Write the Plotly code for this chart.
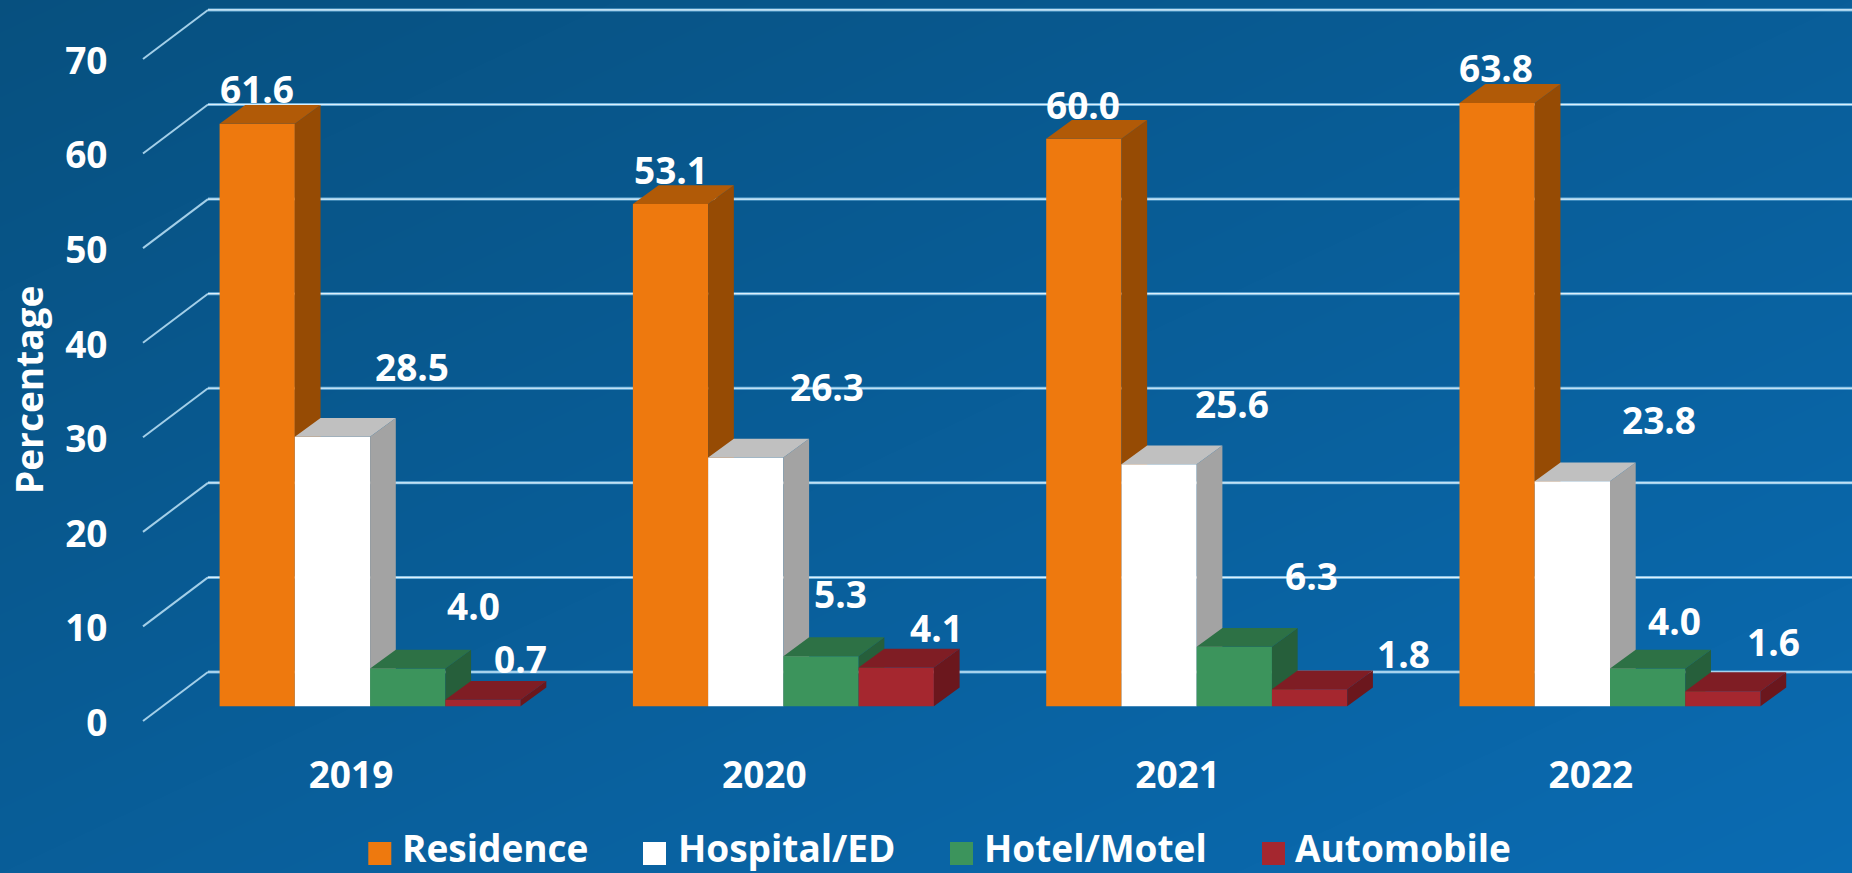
import plotly.graph_objects as go

# ---- data ----
years = ["2019", "2020", "2021", "2022"]
residence = [61.6, 53.1, 60.0, 63.8]
hospital = [28.5, 26.3, 25.6, 23.8]
hotel = [4.0, 5.3, 6.3, 4.0]
automobile = [0.7, 4.1, 1.8, 1.6]
series_names = ["Residence", "Hospital/ED", "Hotel/Motel", "Automobile"]
y_ticks = [0, 10, 20, 30, 40, 50, 60, 70]

# ---- styles ----
FRONT = ["#EE790E", "#FFFFFF", "#3C945C", "#A5272F"]
TOP = ["#B15A07", "#C0C0C0", "#2D7145", "#7F1D24"]
SIDE = ["#964B04", "#A3A3A3", "#265F3B", "#6B171D"]
GRID_OUTER = "rgba(130,195,235,0.85)"
GRID_CORE = "#DCEFFA"
STUB = "#A3CFE8"
FONT = "Open Sans"
FS = 37

# ---- geometry: page pixels <-> axis units ----
W, H = 1852, 873
Y0_PX, PX_PER_UNIT = 706.3, 9.458      # baseline and scale of the bars
X0_PX, PX_PER_GROUP = 219.6, 413.3     # left edge of the first group
BAR_W = 75.25 / PX_PER_GROUP
DX = 25.7 / PX_PER_GROUP               # depth of the 3D effect
DY = 18.8 / PX_PER_UNIT


def xd(px):
    return (px - X0_PX) / PX_PER_GROUP


def yd(px):
    return (Y0_PX - px) / PX_PER_UNIT


X_RANGE = [xd(0), xd(W)]
Y_RANGE = [yd(H), yd(0)]
GRID_BACK = yd(672.0)
GRID_FRONT = yd(721.0)
TICK_SHIFT = yd(723.0)   # where value 0 of the tick labels sits

# label centres in page pixels, one row per year
label_px = [
    [(257, 88), (412, 366), (474, 605), (521, 658)],
    [(671, 170), (827, 387), (841, 594), (937, 628)],
    [(1083, 104), (1232, 403), (1312, 576), (1404, 653)],
    [(1496, 67), (1659, 419), (1675, 620), (1774, 641)],
]

fig = go.Figure()

# background gradient
fig.add_trace(go.Heatmap(
    x=X_RANGE, y=Y_RANGE, z=[[0.5, 1.0], [0.0, 0.5]], zsmooth="best",
    colorscale=[[0, "#07507F"], [1, "#0A6BB2"]], showscale=False,
    hoverinfo="skip", xaxis="x", yaxis="y",
))

# floor stubs + back wall grid lines
for t in y_ticks:
    fig.add_trace(go.Scatter(
        x=[xd(143), xd(208)], y=[GRID_FRONT + t, GRID_BACK + t],
        mode="lines", line=dict(color=STUB, width=2),
        hoverinfo="skip", showlegend=False, xaxis="x", yaxis="y",
    ))
    for color, width in ((GRID_OUTER, 3), (GRID_CORE, 1.2)):
        fig.add_trace(go.Scatter(
            x=[xd(208), xd(W + 5)], y=[GRID_BACK + t, GRID_BACK + t],
            mode="lines", line=dict(color=color, width=width),
            hoverinfo="skip", showlegend=False, xaxis="x", yaxis="y",
        ))

values = [residence, hospital, hotel, automobile]
for s, (name, vals) in enumerate(zip(series_names, values)):
    ya = f"y{s + 2}"
    lefts = [g + s * BAR_W for g in range(len(years))]
    tx, ty, sx, sy = [], [], [], []
    for left, v in zip(lefts, vals):
        r = left + BAR_W
        tx += [left, left + DX, r + DX, r, left, None]
        ty += [v, v + DY, v + DY, v, v, None]
        sx += [r, r + DX, r + DX, r, r, None]
        sy += [0, DY, v + DY, v, 0, None]
    fig.add_trace(go.Scatter(x=sx, y=sy, fill="toself", fillcolor=SIDE[s], mode="lines",
                             line=dict(width=0, color=SIDE[s]), hoverinfo="skip",
                             showlegend=False, xaxis="x", yaxis=ya))
    fig.add_trace(go.Scatter(x=tx, y=ty, fill="toself", fillcolor=TOP[s], mode="lines",
                             line=dict(width=0, color=TOP[s]), hoverinfo="skip",
                             showlegend=False, xaxis="x", yaxis=ya))
    fig.add_trace(go.Bar(
        name=name, x=[l + BAR_W / 2 for l in lefts], y=vals, width=BAR_W,
        marker=dict(color=FRONT[s], line=dict(width=0)),
        showlegend=False, xaxis="x", yaxis=ya,
    ))

# carrier for the tick-label axis
fig.add_trace(go.Scatter(x=[X_RANGE[0]], y=[0], mode="markers", marker=dict(opacity=0),
                         hoverinfo="skip", showlegend=False, xaxis="x", yaxis="y6"))

annotations = []
# value labels
for g, row in enumerate(label_px):
    for s, (lx, ly) in enumerate(row):
        v = values[s][g]
        xc = g + (s + 0.5) * BAR_W
        annotations.append(dict(
            x=xc, y=v, xref="x", yref="y", text=f"{v:.1f}", showarrow=False,
            xshift=lx - (X0_PX + xc * PX_PER_GROUP),
            yshift=-(ly - (Y0_PX - v * PX_PER_UNIT)),
            font=dict(family=FONT, size=FS, color="white", weight=700),
            xanchor="center", yanchor="middle",
        ))

# axis title
annotations.append(dict(
    x=29 / W, y=1 - 390 / H, xref="paper", yref="paper", text="Percentage",
    textangle=-90, showarrow=False, xanchor="center", yanchor="middle",
    font=dict(family=FONT, size=FS, color="white", weight=700),
))

# legend
shapes = []
swatch_left = [368.3, 643, 950, 1262]
text_left = [399.5, 675.5, 981.5, 1292.5]
for s, name in enumerate(series_names):
    shapes.append(dict(type="rect", xref="paper", yref="paper", layer="above",
                       x0=swatch_left[s] / W, x1=(swatch_left[s] + 23) / W,
                       y0=1 - 865 / H, y1=1 - 842 / H,
                       fillcolor=FRONT[s], line=dict(width=0)))
    annotations.append(dict(
        x=text_left[s] / W, y=1 - 847.5 / H, xref="paper", yref="paper", text=name,
        showarrow=False, xanchor="left", yanchor="middle",
        font=dict(family=FONT, size=FS, color="white", weight=700),
    ))

hidden = dict(visible=False, range=Y_RANGE, autorange=False, domain=[0, 1])
layout = dict(
    width=W, height=H, margin=dict(l=0, r=0, t=0, b=0, pad=0),
    paper_bgcolor="#08609A", plot_bgcolor="rgba(0,0,0,0)",
    barmode="overlay", showlegend=False,
    font=dict(family=FONT, size=FS, color="white"),
    annotations=annotations, shapes=shapes,
    xaxis=dict(
        range=X_RANGE, autorange=False, domain=[0, 1], anchor="free",
        position=(H - 750) / H,
        tickmode="array", tickvals=[g + xd(351) for g in range(len(years))], ticktext=years,
        showgrid=False, zeroline=False, showline=False, ticks="",
        tickfont=dict(family=FONT, size=FS, color="white", weight=700),
    ),
    yaxis=dict(hidden),
    yaxis6=dict(
        range=[Y_RANGE[0] - TICK_SHIFT, Y_RANGE[1] - TICK_SHIFT], autorange=False,
        overlaying="y", anchor="free", position=107.5 / W, domain=[0, 1],
        tickmode="array", tickvals=y_ticks, ticktext=[str(t) for t in y_ticks],
        showgrid=False, zeroline=False, showline=False, ticks="",
        tickfont=dict(family=FONT, size=FS, color="white", weight=700),
    ),
)
for i in range(2, 6):
    layout[f"yaxis{i}"] = dict(hidden, overlaying="y")
fig.update_layout(**layout)

fig.write_html(
    "out.html",
    config={"displayModeBar": False},
    post_script="document.body.style.margin='0';document.body.style.overflow='hidden';",
)
